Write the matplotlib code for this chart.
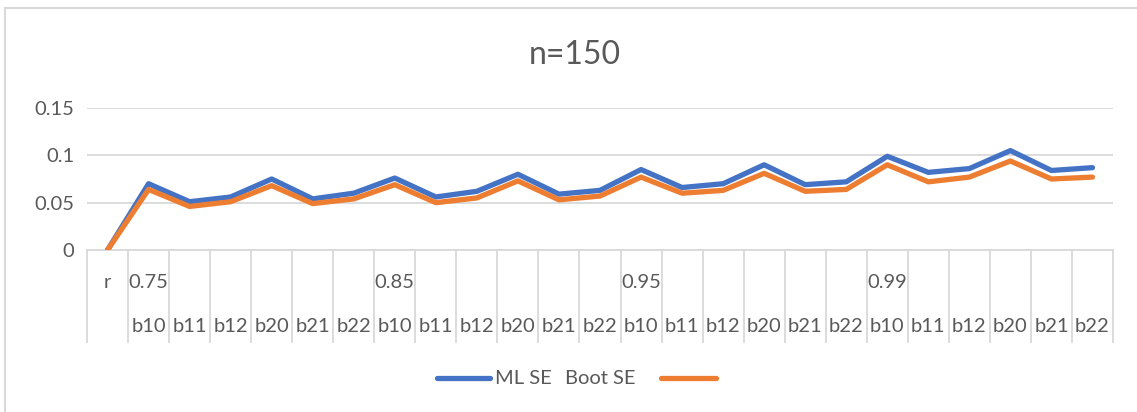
import matplotlib
matplotlib.use("Agg")
import matplotlib.pyplot as plt
from matplotlib.lines import Line2D

plt.rcParams['font.family'] = ['Lato', 'DejaVu Sans']

# categories: r, then four confidence levels with six coefficients each
levels = ['0.75', '0.85', '0.95', '0.99']
coefs = ['b10', 'b11', 'b12', 'b20', 'b21', 'b22']

ml_se = [0.0,
         0.070, 0.051, 0.056, 0.075, 0.054, 0.060,
         0.076, 0.056, 0.062, 0.080, 0.059, 0.063,
         0.085, 0.066, 0.070, 0.090, 0.069, 0.072,
         0.099, 0.082, 0.086, 0.105, 0.084, 0.087]
boot_se = [0.0,
           0.064, 0.046, 0.051, 0.068, 0.049, 0.054,
           0.069, 0.050, 0.055, 0.073, 0.053, 0.057,
           0.077, 0.060, 0.063, 0.081, 0.062, 0.064,
           0.090, 0.072, 0.077, 0.094, 0.075, 0.077]

blue = '#4472C4'
orange = '#ED7D31'
grid = '#D9D9D9'
txt = '#595959'
fs = 14.5

W, H = 1137, 412
fig = plt.figure(figsize=(W / 100, H / 100), dpi=100)

# plot area in pixel terms
x0, x1, ytop, ybot = 87, 1113, 108, 250
ax = fig.add_axes([x0 / W, (H - ybot) / H, (x1 - x0) / W, (ybot - ytop) / H])

x = list(range(len(ml_se)))
ax.plot(x, ml_se, color=blue, lw=3.8, solid_capstyle='round', solid_joinstyle='round', zorder=3)
ax.plot(x, boot_se, color=orange, lw=3.8, solid_capstyle='round', solid_joinstyle='round', zorder=4)

ax.set_xlim(-0.5, len(x) - 0.5)
ax.set_ylim(0, 0.15)
ax.set_yticks([0, 0.05, 0.1, 0.15])
ax.set_yticklabels(['0', '0.05', '0.1', '0.15'])
ax.yaxis.grid(True, color=grid, lw=1.3)
ax.set_axisbelow(True)
ax.tick_params(axis='y', length=0, pad=9, labelsize=fs, labelcolor=txt)
ax.set_xticks([])
for s in ['top', 'right', 'left']:
    ax.spines[s].set_visible(False)
ax.spines['bottom'].set_color(grid)
ax.spines['bottom'].set_linewidth(1.3)

# multi-level category axis below the plot
ph = ybot - ytop
trans = ax.get_xaxis_transform()
y_end = -(342 - ybot) / ph
y_row1 = -(282 - ybot) / ph
y_row2 = -(326 - ybot) / ph
for k in range(len(x) + 1):
    ax.plot([k - 0.5, k - 0.5], [0, y_end], transform=trans, color=grid,
            lw=1.3, clip_on=False)

ax.text(0, y_row1, 'r', transform=trans, ha='center', va='center', fontsize=fs, color=txt)
for i, lev in enumerate(levels):
    start = 1 + i * len(coefs)
    ax.text(start, y_row1, lev, transform=trans, ha='center', va='center',
            fontsize=fs, color=txt)
    for j, c in enumerate(coefs):
        ax.text(start + j, y_row2, c, transform=trans, ha='center', va='center',
                fontsize=fs, color=txt)

# title
fig.text(575 / W, 1 - 55 / H, 'n=150', ha='center', va='center', fontsize=23, color=txt)

# legend
ly = 1 - 378 / H
fig.add_artist(Line2D([437 / W, 490 / W], [ly, ly], color=blue, lw=3.8, solid_capstyle='round'))
fig.text(495 / W, ly, 'ML SE', ha='left', va='center', fontsize=fs, color=txt)
fig.text(565 / W, ly, 'Boot SE', ha='left', va='center', fontsize=fs, color=txt)
fig.add_artist(Line2D([661 / W, 716 / W], [ly, ly], color=orange, lw=3.8, solid_capstyle='round'))

# chart border
fig.add_artist(Line2D([5 / W, 5 / W], [0, 1 - 8 / H], color=grid, lw=1.5))
fig.add_artist(Line2D([5 / W, 1], [1 - 8 / H, 1 - 8 / H], color=grid, lw=1.5))

fig.savefig('out.png', dpi=100)
